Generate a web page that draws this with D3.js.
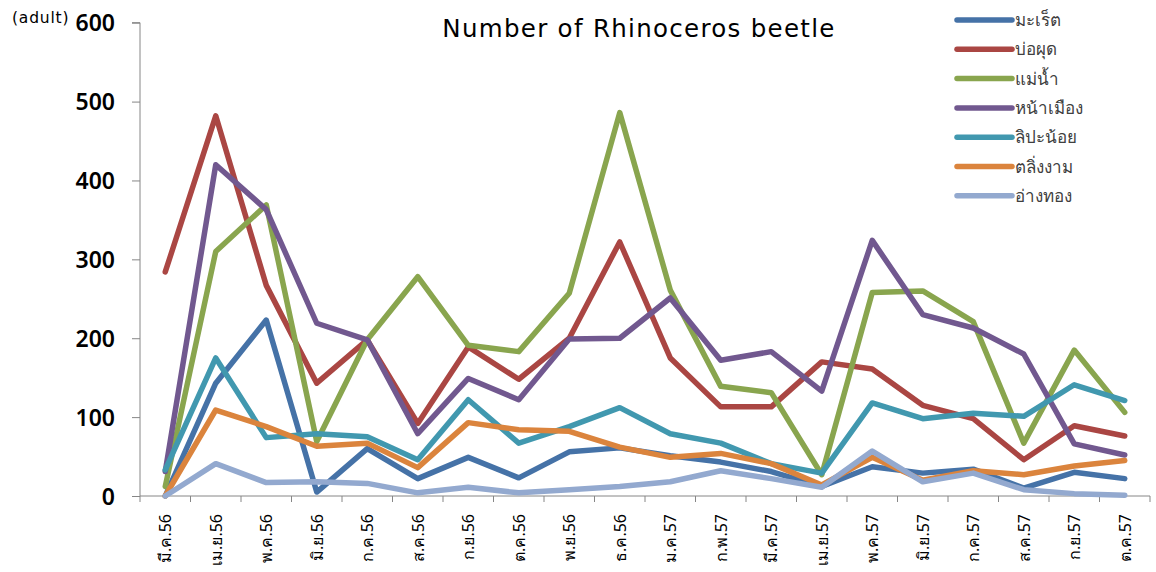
<!DOCTYPE html>
<html>
<head>
<meta charset="utf-8">
<script src="https://cdn.jsdelivr.net/npm/d3@7"></script>
<style>
  body { margin: 0; background: #fff; }
  text { font-family: "Noto Sans", "DejaVu Sans", sans-serif; }
</style>
</head>
<body>
<div id="content"></div>
<script>
var Width = 1156;
var Height = 572;

// month labels (Thai, rotated)
var months = ["มี.ค.56", "เม.ย.56", "พ.ค.56", "มิ.ย.56", "ก.ค.56", "ส.ค.56", "ก.ย.56",
  "ต.ค.56", "พ.ย.56", "ธ.ค.56", "ม.ค.57", "ก.พ.57", "มี.ค.57", "เม.ย.57",
  "พ.ค.57", "มิ.ย.57", "ก.ค.57", "ส.ค.57", "ก.ย.57", "ต.ค.57"];

var seriesNames = ["มะเร็ต", "บ่อผุด", "แม่น้ำ", "หน้าเมือง", "ลิปะน้อย", "ตลิ่งงาม", "อ่างทอง"];
var seriesColors = ["#4572A7", "#AA4643", "#89A54E", "#71588F", "#4198AF", "#DB843D", "#93A9CF"];

var mareet = [0, 143, 223, 5, 60, 22, 49, 23, 56, 61, 51, 43, 31, 12, 37, 29, 34, 10, 30, 22];
var bophut = [284, 482, 267, 143, 198, 92, 189, 148, 200, 322, 175, 113, 113, 170, 161, 115, 98, 46, 89, 76];
var maenam = [12, 310, 369, 69, 198, 278, 191, 183, 257, 486, 261, 139, 131, 27, 258, 260, 221, 67, 185, 106];
var namueang = [31, 420, 363, 219, 198, 79, 149, 122, 199, 200, 251, 172, 183, 133, 324, 230, 213, 180, 66, 52];
var lipanoi = [33, 175, 74, 79, 75, 46, 122, 67, 88, 112, 79, 67, 41, 29, 118, 98, 105, 101, 141, 121];
var talingngam = [0, 109, 88, 63, 67, 36, 93, 84, 82, 62, 49, 54, 41, 14, 49, 20, 32, 27, 38, 45];
var angthong = [0, 41, 17, 18, 16, 4, 11, 4, 8, 12, 18, 32, 22, 11, 57, 18, 29, 8, 3, 1];

var yTicks = [0, 100, 200, 300, 400, 500, 600];

var allSeries = [mareet, bophut, maenam, namueang, lipanoi, talingngam, angthong];

var svg = d3
  .select("#content")
  .append("svg")
  .attr("width", Width)
  .attr("height", Height);

// scales
var xScale = d3.scaleBand().domain(months).range([140, 1150]);
var yScale = d3.scaleLinear().domain([0, 600]).range([496, 22.7]);

// y axis
var yAxis = d3.axisLeft(yScale).tickValues(yTicks).tickSize(8).tickPadding(17);
var gy = svg.append("g").attr("transform", "translate(140,0)").call(yAxis);
gy.select(".domain").attr("stroke", "#868686").attr("d", "M-8," + yScale(600) + "H0V" + yScale(0));
gy.selectAll(".tick line").attr("stroke", "#868686");
gy.selectAll(".tick text")
  .style("font-size", "23px")
  .style("font-weight", "600")
  .attr("dy", "0.36em")
  .attr("fill", "#000");

// x axis, ticks at band edges
var xAxis = d3.axisBottom(xScale).tickSize(0).tickFormat("");
var gx = svg.append("g").attr("transform", "translate(0,496)").call(xAxis);
gx.select(".domain").attr("stroke", "#868686").attr("d", "M140,0H1150");
var edges = months.map(function (m) { return xScale(m); }).concat([1150]);
gx.selectAll(".edge")
  .data(edges)
  .enter()
  .append("line")
  .attr("x1", function (d) { return d; })
  .attr("x2", function (d) { return d; })
  .attr("y1", 0)
  .attr("y2", 6)
  .attr("stroke", "#868686");

// rotated month labels
svg
  .selectAll(".xlabel")
  .data(months)
  .enter()
  .append("text")
  .attr("class", "xlabel")
  .attr("transform", function (d) {
    return "translate(" + (xScale(d) + xScale.bandwidth() / 2 + 6) + ",514) rotate(-90)";
  })
  .style("text-anchor", "end")
  .style("font-size", "16px")
  .attr("fill", "#000")
  .text(function (d) { return d; });

// unit label
svg.append("text")
  .attr("x", 12)
  .attr("y", 23)
  .style("font-family", "'DejaVu Sans', sans-serif")
  .style("font-size", "15.5px")
  .style("letter-spacing", "0.8px")
  .attr("fill", "#000")
  .text("(adult)");

// title
svg.append("text")
  .attr("x", 639)
  .attr("y", 37)
  .style("text-anchor", "middle")
  .style("font-family", "'DejaVu Sans', sans-serif")
  .style("font-size", "24.5px")
  .style("letter-spacing", "1.3px")
  .attr("fill", "#000")
  .text("Number of Rhinoceros beetle");

// lines
var line = d3
  .line()
  .x(function (d, i) { return xScale(months[i]) + xScale.bandwidth() / 2; })
  .y(function (d) { return yScale(d); });

svg
  .selectAll(".series")
  .data(allSeries)
  .enter()
  .append("path")
  .attr("class", "series")
  .attr("d", line)
  .attr("fill", "none")
  .attr("stroke", function (d, i) { return seriesColors[i]; })
  .attr("stroke-width", 5.5)
  .attr("stroke-linejoin", "round")
  .attr("stroke-linecap", "round");

// legend
var legend = svg
  .selectAll(".legend")
  .data(seriesNames)
  .enter()
  .append("g")
  .attr("class", "legend")
  .attr("transform", function (d, i) { return "translate(957," + (20 + i * 29.3) + ")"; });
legend.append("line")
  .attr("x1", 0)
  .attr("x2", 55)
  .attr("stroke", function (d, i) { return seriesColors[i]; })
  .attr("stroke-width", 5.5)
  .attr("stroke-linecap", "round");
legend.append("text")
  .attr("x", 58)
  .attr("y", 6)
  .style("font-size", "17px")
  .attr("fill", "#404040")
  .text(function (d) { return d; });
</script>
</body>
</html>
